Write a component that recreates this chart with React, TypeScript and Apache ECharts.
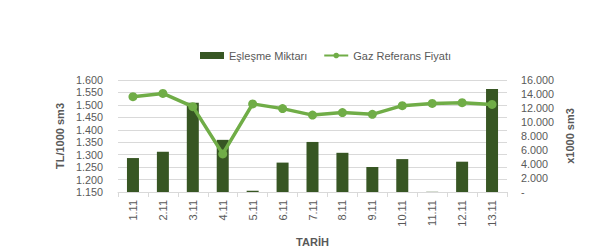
import React, { useEffect, useRef } from "react";
import * as echarts from "echarts";

const categories = ["1.11", "2.11", "3.11", "4.11", "5.11", "6.11", "7.11", "8.11", "9.11", "10.11", "11.11", "12.11", "13.11"];
const matchVolume = [4850, 5750, 12750, 7450, 190, 4200, 7150, 5600, 3570, 4700, 30, 4330, 14700];
const gasPrice = [1.533, 1.546, 1.493, 1.303, 1.504, 1.485, 1.459, 1.469, 1.462, 1.497, 1.506, 1.509, 1.502];

const fmtThousands = (v: number) => {
  if (v === 0) return "-";
  const s = Math.round(v).toString();
  return s.replace(/\B(?=(\d{3})+(?!\d))/g, ".");
};

export default function App() {
  const ref = useRef<HTMLDivElement>(null);
  useEffect(() => {
    if (!ref.current) return;
    const chart = echarts.init(ref.current, undefined, { renderer: "svg" });
    const font = "'Liberation Sans', Arial, sans-serif";
    const gray = "#595959";
    chart.setOption({
      animation: false,
      textStyle: { fontFamily: font },
      legend: {
        top: 45,
        left: 195,
        itemWidth: 24,
        itemHeight: 7,
        itemGap: 16,
        textStyle: { fontFamily: font, fontSize: 11, color: gray },
        data: [
          { name: "Eşleşme Miktarı", icon: "rect" },
          { name: "Gaz Referans Fiyatı" },
        ],
      },
      grid: { left: 118, right: 105, top: 80, bottom: 58 },
      xAxis: {
        type: "category",
        data: categories,
        name: "TARİH",
        nameLocation: "middle",
        nameGap: 44,
        nameTextStyle: { fontFamily: font, fontSize: 11, fontWeight: "bold", color: gray },
        axisLine: { lineStyle: { color: "#d9d9d9" } },
        axisTick: { show: true, length: 5, lineStyle: { color: "#d9d9d9" } },
        axisLabel: { rotate: 90, color: gray, fontSize: 11, margin: 8, interval: 0, lineHeight: 11 },
      },
      yAxis: [
        {
          type: "value",
          min: 1.15,
          max: 1.6,
          interval: 0.05,
          name: "TL/1000 sm3",
          nameLocation: "middle",
          nameRotate: 90,
          nameGap: 47,
          nameTextStyle: { fontFamily: font, fontSize: 11, fontWeight: "bold", color: gray },
          axisLine: { show: false },
          axisTick: { show: false },
          axisLabel: { color: gray, fontSize: 10.8, lineHeight: 11, margin: 15, formatter: (v: number) => v.toFixed(3) },
          splitLine: { lineStyle: { color: "#d9d9d9" } },
        },
        {
          type: "value",
          min: 0,
          max: 16000,
          interval: 2000,
          name: "x1000 sm3",
          nameLocation: "middle",
          nameRotate: 90,
          nameGap: 54,
          nameTextStyle: { fontFamily: font, fontSize: 11, fontWeight: "bold", color: gray },
          axisLine: { show: false },
          axisTick: { show: false },
          axisLabel: { color: gray, fontSize: 10.8, lineHeight: 11, margin: 14, formatter: fmtThousands },
          splitLine: { show: false },
        },
      ],
      series: [
        {
          name: "Eşleşme Miktarı",
          type: "bar",
          yAxisIndex: 1,
          data: matchVolume,
          barWidth: 12,
          itemStyle: { color: "#375623" },
        },
        {
          name: "Gaz Referans Fiyatı",
          type: "line",
          yAxisIndex: 0,
          data: gasPrice,
          symbol: "circle",
          symbolSize: 9,
          lineStyle: { color: "#70AD47", width: 3.5 },
          itemStyle: { color: "#70AD47" },
        },
      ],
    });
    return () => chart.dispose();
  }, []);
  return <div ref={ref} style={{ position: "absolute", left: 0, top: 0, width: 612, height: 250 }} />;
}
